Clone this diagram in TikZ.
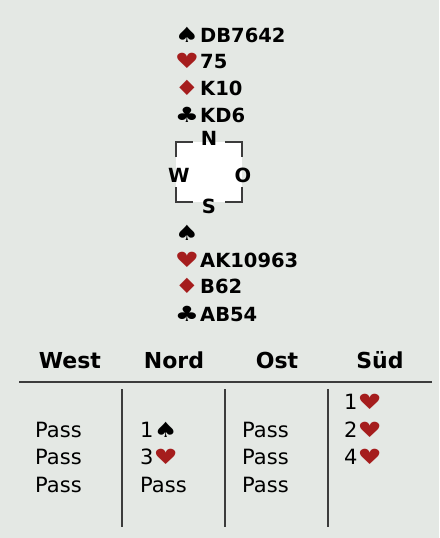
\documentclass[tikz,border=0pt]{standalone}
\usepackage{fontspec}
\setmainfont{DejaVu Sans}
\usepackage{xcolor}
\usepackage{graphicx}
\usetikzlibrary{positioning}
\definecolor{DealGray}{HTML}{E4E8E4}
\definecolor{SuitRed}{HTML}{A51D1D}
\definecolor{FrameGray}{HTML}{3C3C3C}
\newcommand{\wide}[1]{\scalebox{1.35}[1.05]{#1}}
\tikzset{
  suitsym/.style={anchor=base, inner sep=0pt, font=\fontsize{20}{20}\selectfont},
  redsym/.style={suitsym, text=SuitRed},
  cards/.style={anchor=base west, inner sep=0pt, font=\bfseries\fontsize{19.5}{19.5}\selectfont},
  compass/.style={anchor=base, inner sep=0pt, font=\bfseries\fontsize{19.5}{19.5}\selectfont},
  bidhead/.style={anchor=base, inner sep=0pt, font=\bfseries\fontsize{22}{22}\selectfont},
  bid/.style={anchor=base west, inner sep=0pt, font=\fontsize{21}{21}\selectfont},
  bracket/.style={draw=FrameGray, line width=1.4pt},
  tablerule/.style={draw=FrameGray, line width=1.2pt}
}
\newcommand{\bidheart}{{\fontsize{20}{20}\selectfont\textcolor{SuitRed}{\wide{♥}}}}
\newcommand{\bidspade}{{\fontsize{20}{20}\selectfont\wide{♠}}}

\begin{document}
\begin{tikzpicture}[x=1pt,y=-1pt]
  \fill[DealGray] (0,0) rectangle (439,538);
  \useasboundingbox (0,0) rectangle (439,538);

  % Nord
  \node[suitsym] (ns) at (187,42) {\wide{♠}};
  \node[redsym] (nh) at (187,68) {\wide{♥}};
  \node[redsym] (nd) at (187,95) {\wide{♦}};
  \node[suitsym] (nc) at (187,122) {\wide{♣}};
  \node[cards] (nsc) at (200,42) {DB7642};
  \node[cards] (nhc) at (200,68) {75};
  \node[cards] (ndc) at (200,95) {K10};
  \node[cards] (ncc) at (200,122) {KD6};

  % compass
  \fill[white] (176,142) rectangle (242,202);
  \draw[bracket] (176,157) -- (176,142) -- (193,142);
  \draw[bracket] (225,142) -- (242,142) -- (242,157);
  \draw[bracket] (176,187) -- (176,202) -- (193,202);
  \draw[bracket] (225,202) -- (242,202) -- (242,187);
  \node[compass] (cn) at (209,145) {N};
  \node[compass] (cw) at (179,182) {W};
  \node[compass] (co) at (243,182) {O};
  \node[compass] (cs) at (209,213) {S};

  % Süd
  \node[suitsym] (ss) at (187,240) {\wide{♠}};
  \node[redsym] (sh) at (187,267) {\wide{♥}};
  \node[redsym] (sd) at (187,293) {\wide{♦}};
  \node[suitsym] (sc) at (187,321) {\wide{♣}};
  \node[cards] (shc) at (200,267) {AK10963};
  \node[cards] (sdc) at (200,293) {B62};
  \node[cards] (scc) at (200,321) {AB54};

  % bidding
  \node[bidhead] (hw) at (70,368) {West};
  \node[bidhead] (hn) at (174,368) {Nord};
  \node[bidhead] (ho) at (277,368) {Ost};
  \node[bidhead] (hs) at (380,368) {Süd};
  \coordinate (rl) at (19,382);
  \coordinate (rr) at (432,382);
  \draw[tablerule] (rl) -- (rr);
  \foreach \x in {122,225,328}
    \draw[tablerule] (\x,389) -- (\x,527);

  \node[bid] (b1) at (344,409) {1\bidheart};
  \node[bid] (b2) at (35,437) {Pass};
  \node[bid] (b3) at (140,437) {1\bidspade};
  \node[bid] (b4) at (242,437) {Pass};
  \node[bid] (b5) at (344,437) {2\bidheart};
  \node[bid] (b6) at (35,464) {Pass};
  \node[bid] (b7) at (140,464) {3\bidheart};
  \node[bid] (b8) at (242,464) {Pass};
  \node[bid] (b9) at (344,464) {4\bidheart};
  \node[bid] (b10) at (35,492) {Pass};
  \node[bid] (b11) at (140,492) {Pass};
  \node[bid] (b12) at (242,492) {Pass};
\end{tikzpicture}
\end{document}
